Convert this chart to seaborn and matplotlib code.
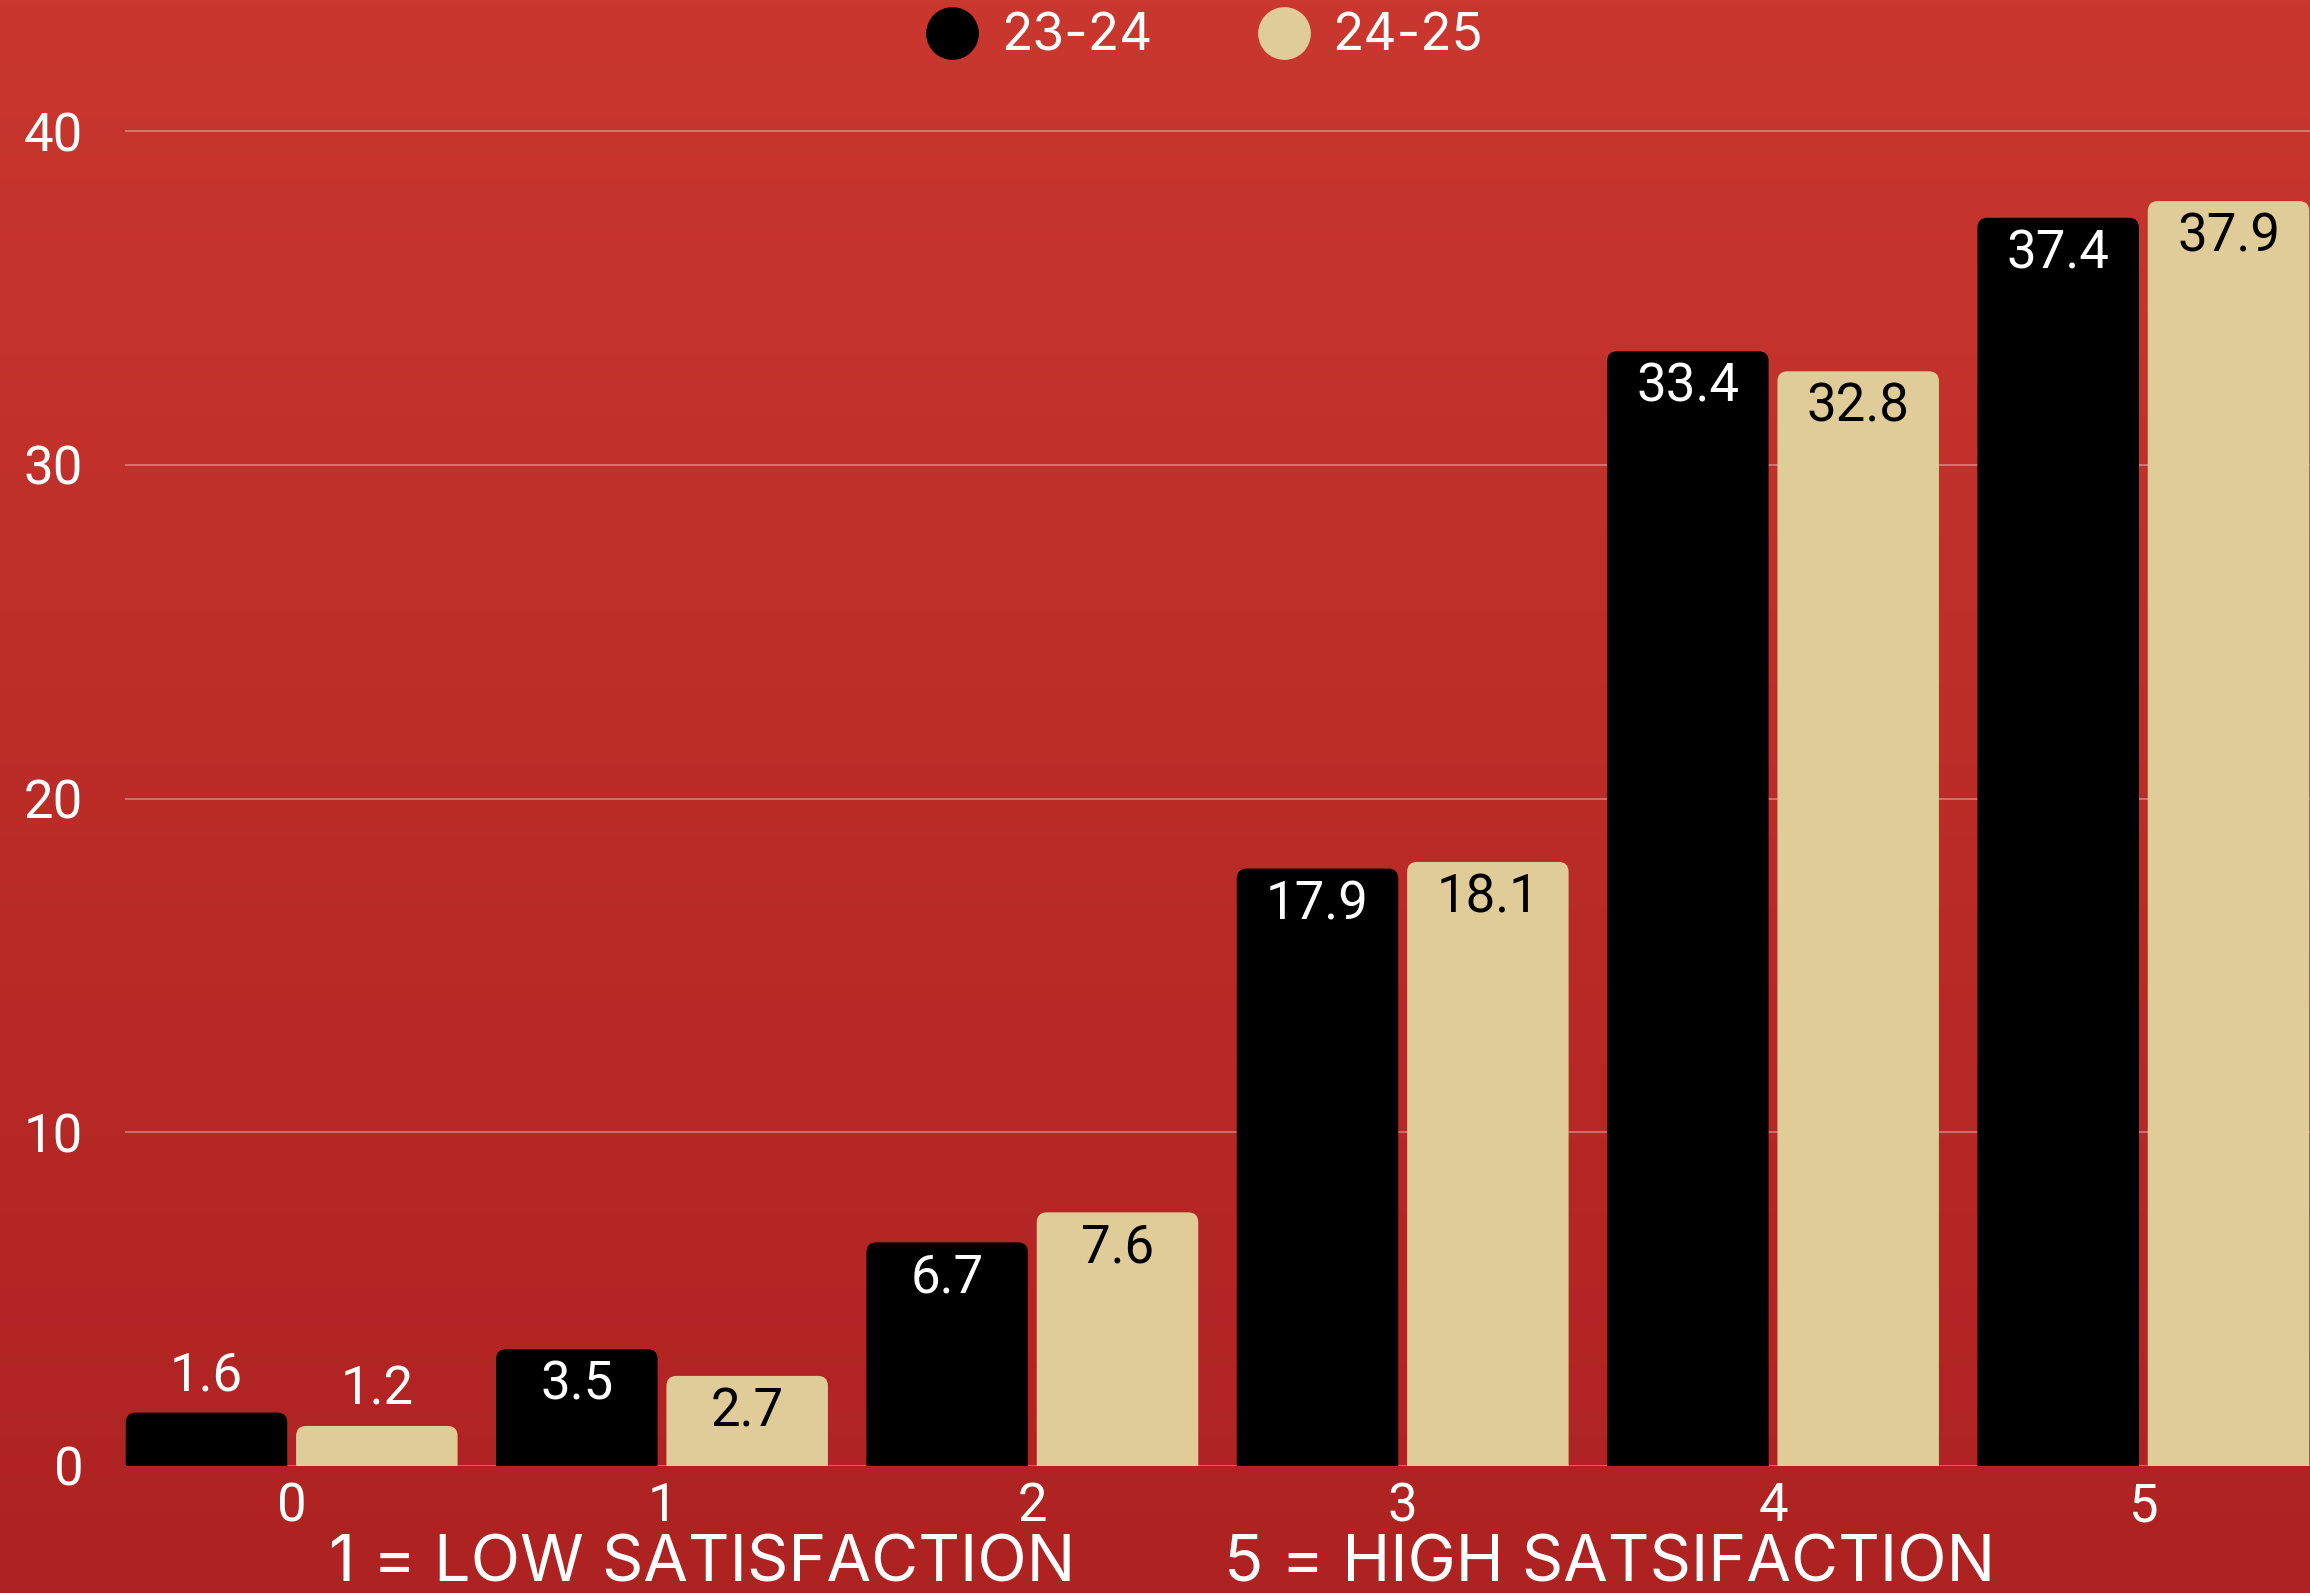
import numpy as np
import pandas as pd
import matplotlib
matplotlib.use("Agg")
import matplotlib.pyplot as plt
from matplotlib.patches import FancyBboxPatch
from matplotlib.lines import Line2D
import seaborn as sns

# Satisfaction rating (0-5) share, two school years
ratings = ["0", "1", "2", "3", "4", "5"]
year_23_24 = [1.6, 3.5, 6.7, 17.9, 33.4, 37.4]
year_24_25 = [1.2, 2.7, 7.6, 18.1, 32.8, 37.9]
series_names = ["23-24", "24-25"]
y_ticks = [0, 10, 20, 30, 40]
low_note = "1 = LOW SATISFACTION"
high_note = "5 = HIGH SATSIFACTION"

BLACK = "#000000"
CREAM = "#DFCC98"
FONT = ["Roboto", "DejaVu Sans"]
WIDE_FONT = ["Inter", "DejaVu Sans"]

df = pd.DataFrame({
    "rating": ratings * 2,
    "value": year_23_24 + year_24_25,
    "year": [series_names[0]] * len(ratings) + [series_names[1]] * len(ratings),
})

sns.set_theme(style="white")
plt.rcParams["font.family"] = FONT

W, H, DPI = 2310, 1593, 100
fig = plt.figure(figsize=(W / DPI, H / DPI), dpi=DPI)

# red paper background, slightly darker toward the bottom
bg = fig.add_axes([0, 0, 1, 1], zorder=-10)
grad = np.linspace(0, 1, 256)[:, None]
top_c = np.array([0xC9, 0x37, 0x2E]) / 255
bot_c = np.array([0xAE, 0x22, 0x22]) / 255
img = top_c * (1 - grad[..., None]) + bot_c * grad[..., None]
img = np.repeat(img, 2, axis=1)
bg.imshow(img, aspect="auto", extent=[0, 1, 0, 1], origin="upper")
bg.set_axis_off()

ax_left = 125 / W
ax_bottom = (H - 1466) / H
y_top = 40.5
px_per_unit = (1466 - 131) / 40
ax_top_px = 1466 - y_top * px_per_unit
ax = fig.add_axes([ax_left, ax_bottom, 1 - ax_left, (1466 - ax_top_px) / H])
ax.patch.set_alpha(0)

sns.barplot(data=df, x="rating", y="value", hue="year", order=ratings,
            hue_order=series_names, palette=[BLACK, CREAM], width=0.92,
            gap=0.052, ax=ax, legend=False, saturation=1)

ax.set_xlim(-0.45, 5.45)
ax.set_ylim(0, y_top)
ax.set_yticks(y_ticks)
ax.set_xlabel("")
ax.set_ylabel("")
for s in ax.spines.values():
    s.set_visible(False)
ax.grid(axis="y", color="white", alpha=0.38, linewidth=1.2)
ax.set_axisbelow(True)
ax.tick_params(axis="y", length=0, pad=30, labelsize=38, labelcolor="white")
ax.tick_params(axis="x", length=0, pad=11, labelsize=38, labelcolor="white")

# swap the square bars for ones with rounded top corners
fig.canvas.draw()
x_px = ax.transData.transform([[0, 0], [1, 0]])
y_px = ax.transData.transform([[0, 0], [0, 1]])
ppx = x_px[1, 0] - x_px[0, 0]
ppy = y_px[1, 1] - y_px[0, 1]
radius_px = 10
rx = radius_px / ppx
aspect = (radius_px / ppy) / rx

bars = list(ax.patches)
for bar in bars:
    x0, w, h = bar.get_x(), bar.get_width(), bar.get_height()
    if h <= 0:
        continue
    fc = bar.get_facecolor()
    rb = FancyBboxPatch((x0, -1), w, h + 1,
                        boxstyle=f"round,pad=0,rounding_size={rx}",
                        mutation_aspect=aspect, facecolor=fc,
                        edgecolor="none", zorder=2)
    bar.remove()
    ax.add_patch(rb)
    cx = x0 + w / 2
    is_black = np.allclose(fc[:3], (0, 0, 0))
    label = f"{h:.1f}"
    if h > 2.0:
        ax.annotate(label, (cx, h), xytext=(0, -26), textcoords="offset points",
                    ha="center", va="center", fontsize=38,
                    color="white" if is_black else "black", zorder=3)
    else:
        ax.annotate(label, (cx, h), xytext=(0, 26), textcoords="offset points",
                    ha="center", va="center", fontsize=38,
                    color="white", zorder=3)

handles = [Line2D([], [], linestyle="none", marker="o", markersize=38,
                  markerfacecolor=c, markeredgecolor="none")
           for c in (BLACK, CREAM)]
fig.legend(handles, series_names, loc="center", ncol=2,
           bbox_to_anchor=(1205 / W, 1 - 37 / H), frameon=False,
           prop={"family": WIDE_FONT, "size": 37}, labelcolor="white",
           handlelength=1.0, handletextpad=0.45, columnspacing=2.05,
           borderpad=0)

fig.text(702 / W, 12 / H, low_note, ha="center", va="baseline",
         fontsize=46.5, color="white", family=WIDE_FONT)
fig.text(1610 / W, 12 / H, high_note, ha="center", va="baseline",
         fontsize=46.5, color="white", family=WIDE_FONT)

fig.savefig("out.png", dpi=DPI)
